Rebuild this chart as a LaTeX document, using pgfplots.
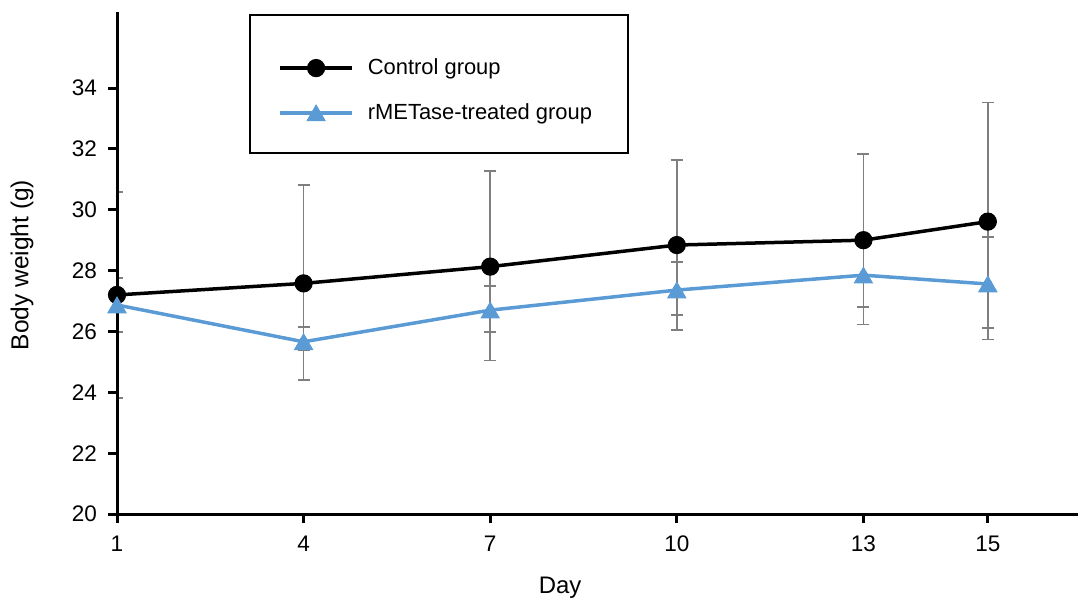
\documentclass[border=0pt]{standalone}
\usepackage{pgfplots}
\pgfplotsset{compat=1.18}
\usepackage{pgfplotstable}
\usepackage{fontspec}
\setmainfont{Liberation Sans}
\definecolor{treatblue}{HTML}{5B9BD5}
\definecolor{errgray}{HTML}{7F7F7F}

% body weight (g): mean, upper and lower error
\pgfplotstableread{
day  ctrl   cup   cdn   treat  tup   tdn
1    27.20  3.39  3.39  26.87  0.89  0.89
4    27.58  3.23  3.18  25.66  0.49  0.29
7    28.13  3.14  3.09  26.70  0.80  0.71
10   28.84  2.79  2.79  27.36  0.93  0.82
13   29.00  2.83  2.77  27.85  1.04  1.04
15   29.61  3.91  3.87  27.56  1.55  1.44
}\weights

\begin{document}
\begin{tikzpicture}
\begin{axis}[
  set layers,
  clip mode=individual,
  scale only axis,
  width=480.5bp, height=251bp,
  xmin=1, xmax=16.45,
  ymin=20, ymax=36.5,
  axis lines=left,
  axis line style={-, line width=1.5bp, black},
  tick align=outside,
  major tick length=4.5bp,
  tick style={line width=1.5bp, black},
  xtick={1,4,7,10,13,15},
  ytick={20,22,...,34},
  /pgf/number format/assume math mode=true,
  ticklabel style={font=\fontsize{11.3}{13}\selectfont},
  xticklabel style={yshift=-3bp},
  yticklabel style={xshift=-2bp},
  xlabel={Day},
  ylabel={Body weight (g)},
  xlabel style={at={(axis description cs:0.461,-0.147)}, anchor=center,
    font=\fontsize{12}{14}\selectfont},
  ylabel style={at={(axis description cs:-0.0989,0.496)}, anchor=center,
    rotate=0, font=\fontsize{12.3}{14}\selectfont},
  legend style={at={(axis description cs:0.1675,0.8436)}, anchor=west,
    draw=none, fill=none, inner sep=0pt,
    nodes={inner sep=0pt, font=\fontsize{11}{13}\selectfont},
    row sep=13bp, column sep=7bp},
  legend cell align=left,
  legend image code/.code={
    \draw[mark repeat=2, mark phase=2, #1]
      plot coordinates {(0bp,0bp) (18bp,0bp) (36bp,0bp)};},
]
% error bars behind the axis lines and the data lines
\addplot[on layer=axis background, forget plot, only marks, mark=none,
  error bars/.cd, y dir=both, y explicit,
  error bar style={errgray, line width=0.8bp},
  error mark options={errgray, rotate=90, mark size=3bp, line width=0.8bp}]
  table[x=day, y=ctrl, y error plus=cup, y error minus=cdn] {\weights};
\addplot[on layer=axis background, forget plot, only marks, mark=none,
  error bars/.cd, y dir=both, y explicit,
  error bar style={errgray, line width=0.8bp},
  error mark options={errgray, rotate=90, mark size=3bp, line width=0.8bp}]
  table[x=day, y=treat, y error plus=tup, y error minus=tdn] {\weights};

\addplot[black, line width=1.75bp, mark=*, mark size=4.3bp,
  mark options={solid, fill=black, line width=0.5bp}]
  table[x=day, y=ctrl] {\weights};
\addplot[treatblue, line width=1.75bp, mark=triangle*, mark size=5.2bp,
  mark options={solid, fill=treatblue, line width=0.5bp, yshift=-1.3bp}]
  table[x=day, y=treat] {\weights};
\legend{Control group, rMETase-treated group}

\draw[line width=1bp, black] (axis description cs:0.1384,0.994)
  rectangle (axis description cs:0.5317,0.7191);
\end{axis}
\pgfresetboundingbox
\path[use as bounding box] (-58.5bp,-44.5bp) rectangle (480.5bp,257bp);
\end{tikzpicture}
\end{document}
